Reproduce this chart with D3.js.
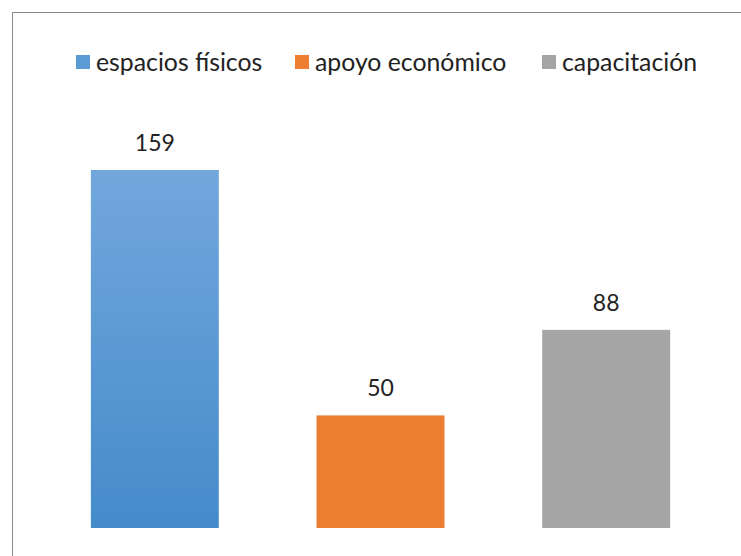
<!DOCTYPE html>
<html>
<head>
<meta charset="utf-8">
<script src="https://cdn.jsdelivr.net/npm/d3@7"></script>
<style>
  body { margin: 0; background: #fff; }
  text { font-family: Lato, "Open Sans", sans-serif; fill: #222; }
</style>
</head>
<body>
<div id="main"></div>
<script>
var categories = ["espacios físicos", "apoyo económico", "capacitación"];
var values = [159, 50, 88];
var colors = ["#5b9bd5", "#ed7d31", "#a5a5a5"];

var ctx = { w: 741, h: 556 };

var svg = d3.select("#main").append("svg")
    .attr("width", ctx.w)
    .attr("height", ctx.h);

// gradient for the blue bar (lighter at top)
var defs = svg.append("defs");
var grad = defs.append("linearGradient")
    .attr("id", "blueGrad")
    .attr("x1", 0).attr("y1", 0).attr("x2", 0).attr("y2", 1);
grad.append("stop").attr("offset", "0%").attr("stop-color", "#72a7dc");
grad.append("stop").attr("offset", "100%").attr("stop-color", "#458bcb");

// chart frame
svg.append("rect")
    .attr("x", 12.5).attr("y", 12.5)
    .attr("width", ctx.w)
    .attr("height", ctx.h)
    .attr("fill", "none")
    .attr("stroke", "#8c8c8c")
    .attr("stroke-width", 1);

var xScale = d3.scaleBand()
    .domain(categories)
    .range([42, 719])
    .paddingInner(0.433)
    .paddingOuter(0.2165);

var yScale = d3.scaleLinear()
    .domain([0, 159])
    .range([528, 170]);

var barG = svg.append("g");
barG.selectAll("rect")
    .data(values)
    .enter()
    .append("rect")
    .attr("x", function(d, i){ return xScale(categories[i]); })
    .attr("y", function(d){ return yScale(d); })
    .attr("width", xScale.bandwidth())
    .attr("height", function(d){ return yScale(0) - yScale(d); })
    .attr("fill", function(d, i){ return i == 0 ? "url(#blueGrad)" : colors[i]; });

// value labels
barG.selectAll("text")
    .data(values)
    .enter()
    .append("text")
    .attr("x", function(d, i){ return xScale(categories[i]) + xScale.bandwidth()/2; })
    .attr("y", function(d){ return yScale(d) - 19; })
    .attr("text-anchor", "middle")
    .style("font-size", "23px")
    .text(function(d){ return d; });

// legend
var legendX = [76, 295, 542];
var legend = svg.append("g");
categories.forEach(function(c, i){
    legend.append("rect")
        .attr("x", legendX[i]).attr("y", 55)
        .attr("width", 14).attr("height", 14)
        .attr("fill", colors[i]);
    legend.append("text")
        .attr("x", legendX[i] + 20)
        .attr("y", 71)
        .style("font-size", "24.8px")
        .text(c);
});
</script>
</body>
</html>
